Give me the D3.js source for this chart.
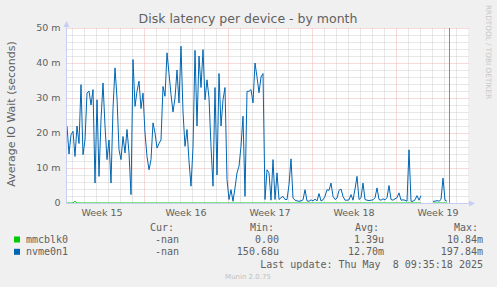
<!DOCTYPE html>
<html>
<head>
<meta charset="utf-8">
<script src="https://cdn.jsdelivr.net/npm/d3@7"></script>
<style>
  body { margin: 0; background: #f0f0f0; }
  svg text { fill: #606060; }
  .mono { font-family: "DejaVu Sans Mono", monospace; font-size: 10px; white-space: pre; }
</style>
</head>
<body>
<div id="chart"></div>
<script>
// week labels (grid starts on Sundays)
const weekLabels = ["Week 15", "Week 16", "Week 17", "Week 18", "Week 19"];
const weekStarts = ["2025-04-06", "2025-04-13", "2025-04-20", "2025-04-27", "2025-05-04"];
const yTicks = [0, 10, 20, 30, 40, 50];

// one sample every 4 hours from 2025-04-06 14:00, values in ms
const nvme0n1 = [
  22, 14, 19.5, 20.5, 13.3, 22, 17, 33.8, 13.8, 18,
  31.4, 32, 28, 32.4, 5.7, 29.5, 7.6, 23.8, 34.3, 22,
  12.4, 18, 5.7, 27, 38.6, 30, 15.2, 12.4, 19, 14.3,
  21, 14.3, 2.4, 41, 27.6, 31.9, 34.8, 27, 31.4, 20,
  13.3, 9.5, 12.4, 22.9, 20, 15.7, 17, 18, 33.3, 30.5,
  42.9, 37, 31, 26, 30, 38, 28.6, 44.8, 26, 16.2,
  21, 12, 4.8, 16, 43.6, 22, 42, 33, 43.8, 29.5,
  35.2, 30, 16.2, 4.8, 33, 8, 37, 22, 29.5, 33,
  6.7, 1, 3.8, 0.5, 4.3, 8.6, 10.5, 16.2, 24.8, 1.9,
  31.9, 31.9, 32.4, 28.6, 40, 36, 31.5, 36, 37, 1,
  9.5, 8.6, 0.8, 12.4, 1, 8.6, 1, 1.5, 1.9, 1,
  1, 5.2, 12.6, 1.4, 0.8, 0.6, 0.5, 0.6, 0.9, 3.8,
  0.6, 0.5, 0.9, 0.6, 1.1, 0.6, 2.7, 0.6, 0.9, 1.9,
  3.8, 3.6, 5.7, 1.9, 1, 1.4, 3.6, 4, 1.9, 0.8,
  0.8, 0.9, 2.4, 0.8, 4, 7.6, 1, 1.5, 5.7, 1,
  0.8, 0.7, 0.8, 0.9, 1.5, 4.3, 1, 0.8, 1.2, 0.9,
  1.5, 5, 1, 0.8, 1.2, 1.5, 2.9, 0.8, 0.9, 0.8,
  0.5, 15.2, 0.5, 0.5, 0.9, 2.1, 0.8, 2.1, null, null,
  null, null, null, 0.5, 0.5, 0.7, 0.5, 1, 7.1, 0.8,
  0.5
];
const mmcblk0 = [
  0, 0, 0, 0, 0.5, 0, 0, 0, 0, 0,
  0, 0, 0, 0, 0, 0, 0, 0, 0, 0,
  0, 0, 0, 0, 0, 0, 0, 0, 0, 0,
  0, 0, 0, 0, 0, 0, 0, 0, 0, 0,
  0, 0, 0, 0, 0, 0, 0, 0, 0, 0,
  0, 0, 0, 0, 0, 0, 0, 0, 0, 0,
  0, 0, 0, 0, 0, 0, 0, 0, 0, 0,
  0, 0, 0, 0, 0, 0, 0, 0, 0, 0,
  0, 0, 0, 0, 0, 0, 0, 0, 0, 0,
  0, 0, 0, 0, 0, 0, 0, 0, 0, 0,
  0, 0, 0, 0, 0, 0, 0, 0, 0, 0,
  0, 0, 0, 0, 0, 0, 0, 0, 0, 0,
  0, 0, 0, 0, 0, 0, 0, 0, 0, 0,
  0, 0, 0, 0, 0, 0, 0, 0, 0, 0,
  0, 0, 0, 0, 0, 0, 0, 0, 0, 0,
  0, 0, 0, 0, 0, 0, 0, 0, 0, 0,
  0, 0, 0, 0, 0, 0, 0, 0, 0, 0,
  0, 0, 0, 0, 0, 0, 0, 0, null, null,
  null, null, null, 0, 0, 0, 0, 0, 0, 0,
  0
];

// legend table
const seriesNames = ["mmcblk0", "nvme0n1"];
const seriesColors = ["#00cc00", "#0066b3"];
const curVals = ["-nan", "-nan"];
const minVals = ["0.00", "150.68u"];
const avgVals = ["1.39u", "12.70m"];
const maxVals = ["10.84m", "197.84m"];
const lastUpdate = "Last update: Thu May  8 09:35:18 2025";
const lastUpdateTime = new Date(2025, 4, 8, 9, 35, 18);

const W = 497, H = 287;
const plot = { left: 67, right: 468, top: 28, bottom: 203 };

const svg = d3.select("#chart").append("svg")
    .attr("width", W).attr("height", H)
    .style("font-family", "'DejaVu Sans', sans-serif");

const start = new Date(2025, 3, 6, 14);
const end = new Date(2025, 4, 10, 0);
const x = d3.scaleTime().domain([start, end]).range([plot.left, plot.right]);
const y = d3.scaleLinear().domain([0, 50]).range([plot.bottom, plot.top]);

// canvas
svg.append("rect")
    .attr("x", plot.left).attr("y", plot.top)
    .attr("width", plot.right - plot.left).attr("height", plot.bottom - plot.top)
    .attr("fill", "#fff");

// grid
const parseDay = d3.timeParse("%Y-%m-%d");
const sundays = weekStarts.map(parseDay);
const grid = svg.append("g").attr("transform", "translate(0.5,0.5)");
const minorColor = "#cfcfcf", majorColor = "#f2b4b4";

d3.timeDay.range(d3.timeDay.ceil(start), end)
    .filter(d => d.getDay() !== 0)
    .forEach(d => {
        grid.append("line")
            .attr("x1", Math.round(x(d))).attr("x2", Math.round(x(d)))
            .attr("y1", plot.top).attr("y2", plot.bottom)
            .attr("stroke", minorColor).attr("stroke-dasharray", "1,1");
    });
d3.range(2, 50, 2).filter(v => v % 10 !== 0).forEach(v => {
    grid.append("line")
        .attr("x1", plot.left).attr("x2", plot.right)
        .attr("y1", Math.round(y(v))).attr("y2", Math.round(y(v)))
        .attr("stroke", minorColor).attr("stroke-dasharray", "1,1");
});
sundays.filter(d => d > start).forEach(d => {
    grid.append("line")
        .attr("x1", Math.round(x(d))).attr("x2", Math.round(x(d)))
        .attr("y1", plot.top).attr("y2", plot.bottom)
        .attr("stroke", majorColor).attr("stroke-dasharray", "1,1");
});
yTicks.filter(v => v > 0).forEach(v => {
    grid.append("line")
        .attr("x1", plot.left).attr("x2", plot.right)
        .attr("y1", Math.round(y(v))).attr("y2", Math.round(y(v)))
        .attr("stroke", majorColor).attr("stroke-dasharray", "1,1");
});

// y tick labels
svg.append("g").selectAll("text").data(yTicks).join("text")
    .attr("x", 60.5).attr("y", d => y(d))
    .attr("dy", "0.35em")
    .attr("text-anchor", "end")
    .style("font-size", "9.5px")
    .text(d => d === 0 ? "0" : d + " m");

// week labels
svg.append("g").selectAll("text").data(sundays).join("text")
    .attr("x", d => x(d3.timeHour.offset(d, 84)))
    .attr("y", 215.5)
    .attr("text-anchor", "middle")
    .style("font-size", "9.5px")
    .text((d, i) => weekLabels[i]);

// series
const times = nvme0n1.map((v, i) => d3.timeHour.offset(start, 4 * i));
const line = d3.line()
    .defined(d => d.v !== null)
    .x(d => x(d.t))
    .y(d => y(d.v));

[mmcblk0, nvme0n1].forEach((vals, k) => {
    svg.append("path")
        .datum(vals.map((v, i) => ({ t: times[i], v: v })))
        .attr("fill", "none")
        .attr("stroke", seriesColors[k])
        .attr("stroke-width", 1)
        .attr("d", line);
});

// axes with arrows
const axisColor = "#c8cdf4";
svg.append("line")
    .attr("x1", plot.left - 0.5).attr("x2", plot.left - 0.5)
    .attr("y1", plot.bottom + 0.5).attr("y2", 24)
    .attr("stroke", axisColor);
svg.append("path")
    .attr("d", `M${plot.left - 3.5},27 L${plot.left + 2.5},27 L${plot.left - 0.5},21 Z`)
    .attr("fill", axisColor);
svg.append("line")
    .attr("x1", plot.left - 1).attr("x2", 472)
    .attr("y1", plot.bottom + 0.5).attr("y2", plot.bottom + 0.5)
    .attr("stroke", axisColor);
svg.append("path")
    .attr("d", `M469,${plot.bottom - 2.5} L469,${plot.bottom + 3.5} L475,${plot.bottom + 0.5} Z`)
    .attr("fill", axisColor);

// last update marker
svg.append("line")
    .attr("x1", Math.round(x(lastUpdateTime)) + 0.5).attr("x2", Math.round(x(lastUpdateTime)) + 0.5)
    .attr("y1", plot.top).attr("y2", plot.bottom)
    .attr("stroke", "#8c8c8c");

// title and axis label
svg.append("text")
    .attr("x", 248).attr("y", 22.5)
    .attr("text-anchor", "middle")
    .style("font-size", "12.5px")
    .text("Disk latency per device - by month");

svg.append("text")
    .attr("transform", "translate(15,114) rotate(-90)")
    .attr("text-anchor", "middle")
    .style("font-size", "11px")
    .text("Average IO Wait (seconds)");

svg.append("text")
    .attr("transform", "translate(486,5) rotate(90)")
    .style("font-size", "7.3px")
    .style("fill", "#c8c8c8")
    .text("RRDTOOL / TOBI OETIKER");

// legend
const cols = [
    { x: 179, head: "Cur:", vals: curVals },
    { x: 279, head: "Min:", vals: minVals },
    { x: 384, head: "Avg:", vals: avgVals },
    { x: 483, head: "Max:", vals: maxVals }
];
cols.forEach(c => {
    svg.append("text").attr("class", "mono")
        .attr("x", c.x - 29).attr("y", 231)
        .text(c.head);
    c.vals.forEach((v, i) => {
        svg.append("text").attr("class", "mono")
            .attr("x", c.x).attr("y", 243 + 12.3 * i)
            .attr("text-anchor", "end")
            .text(v);
    });
});
seriesNames.forEach((name, i) => {
    svg.append("rect")
        .attr("x", 14).attr("y", 236.5 + 12.3 * i)
        .attr("width", 6).attr("height", 6)
        .attr("fill", seriesColors[i]);
    svg.append("text").attr("class", "mono")
        .attr("x", 26).attr("y", 243 + 12.3 * i)
        .text(name);
});
svg.append("text").attr("class", "mono")
    .attr("x", 483).attr("y", 267.5)
    .attr("text-anchor", "end")
    .text(lastUpdate);

svg.append("text")
    .attr("x", 248).attr("y", 278.5)
    .attr("text-anchor", "middle")
    .style("font-size", "7px")
    .style("fill", "#c0c0c0")
    .text("Munin 2.0.75");
</script>
</body>
</html>
